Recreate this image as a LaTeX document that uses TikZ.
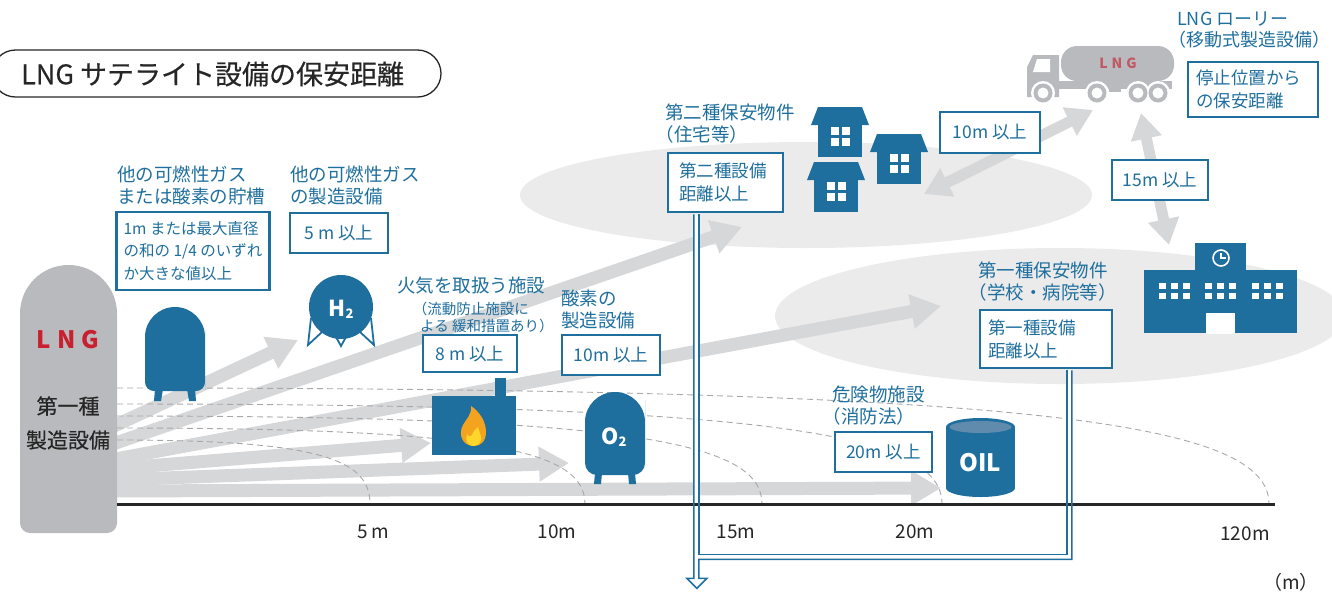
\documentclass[tikz,border=0pt]{standalone}
\usepackage{fontspec}
\setmainfont{Noto Sans CJK JP}
\newfontfamily\titlefont[FakeBold=0.4]{Noto Sans CJK JP}
\usetikzlibrary{calc,arrows.meta,positioning}
\definecolor{safeBlue}{RGB}{31,111,158}
\definecolor{safeInk}{RGB}{38,38,38}
\definecolor{fanGray}{RGB}{214,215,217}
\definecolor{zoneGray}{RGB}{235,235,236}
\definecolor{lngGray}{RGB}{185,186,190}
\definecolor{lngRed}{RGB}{200,32,46}
\definecolor{truckRed}{RGB}{194,88,100}
\definecolor{reachGray}{RGB}{168,168,168}
\definecolor{drumTop}{RGB}{96,139,172}
\definecolor{flameOrange}{RGB}{244,163,30}
\definecolor{flameYellow}{RGB}{252,214,42}
\newcommand{\openparen}{\hspace*{-0.5em}（}
\newcommand{\closeparen}{）\hspace*{-0.5em}}

\begin{document}
\begin{tikzpicture}[x=1pt,y=-1pt,
  infotext/.style={text=safeBlue, font=\fontsize{18.5}{21.5}\selectfont, align=left, inner sep=0pt, anchor=north west},
  rulebox/.style={draw=safeBlue, line width=2.3pt, fill=white, text=safeBlue, font=\fontsize{17.5}{23}\selectfont, inner xsep=9pt, inner ysep=0pt},
  fanarrow/.style={fanGray, line width=13pt, -{Triangle[length=30pt,width=33pt]}},
  spanarrow/.style={fanGray, line width=11pt, {Triangle[length=26pt,width=30pt]}-{Triangle[length=26pt,width=30pt]}},
  reach/.style={reachGray, line width=0.9pt, dash pattern=on 6pt off 4pt},
  pipe/.style={safeBlue, line width=1.5pt},
  axislabel/.style={text=safeInk, font=\fontsize{19}{20}\selectfont, inner sep=0pt}]
\useasboundingbox (0,0) rectangle (1332,595);

% zones of the protected buildings
\fill[zoneGray] (806,195) ellipse[x radius=286, y radius=53];
\fill[zoneGray] (1060,316) ellipse[x radius=285, y radius=68];

% distances fanning out of the LNG tank
\foreach \n/\sy/\tx/\ty in {h2/428/298/340, second/445/742/227, first/460/941/306,
                            fire/469/431/443, oxy/480/569/463, oil/491/941/488} {
  \coordinate (from-\n) at (110,\sy);
  \coordinate (to-\n) at (\tx,\ty);
  \draw[fanarrow] (from-\n) -- (to-\n);
}

\coordinate (houseEnd) at (924,194);
\coordinate (truckLeft) at (1093,110);
\coordinate (truckBottom) at (1141,113);
\coordinate (schoolTop) at (1169,245);
\draw[spanarrow] (houseEnd) -- (truckLeft);
\draw[spanarrow] (truckBottom) -- (schoolTop);

\foreach \top/\xe in {440/370, 428/585, 416/762, 404/942, 388/1269}
  \draw[reach] (117,\top) .. controls ({117+0.8*(\xe-117)},\top) and (\xe,{\top+0.3*(504-\top)}) .. (\xe,504);

% LNG tank
\fill[lngGray] (20,400) [rounded corners=48.5pt] -- (20,265) -- (117,265) -- (117,400)
  [rounded corners=10pt] -- (117,533) -- (20,533) -- cycle;
\node[text=lngRed, font=\fontsize{24}{24}\selectfont\bfseries] (lngMark) at (68,340) {L\hspace{6pt}N\hspace{6pt}G};
\node[text=safeInk, font=\titlefont\fontsize{21}{21}\selectfont] (lngKind) at (68,406) {第一種};
\node[text=safeInk, font=\titlefont\fontsize{21}{21}\selectfont] (lngUse) at (68,440) {製造設備};

% storage tank
\fill[safeBlue] (145,360) [rounded corners=30pt] -- (145,307) -- (205,307) -- (205,360)
  [rounded corners=9pt] -- (205,391) -- (145,391) -- cycle;
\fill[safeBlue] (155,389) -- (163,389) -- (161,401) -- (154,401) -- cycle;
\fill[safeBlue] (187,389) -- (195,389) -- (196,401) -- (189,401) -- cycle;

% hydrogen sphere
\draw[safeBlue, line width=1.8pt] (311,318) -- (308,345) -- (322,332);
\draw[safeBlue, line width=1.8pt] (371,318) -- (374,345) -- (360,332);
\draw[safeBlue, line width=1.8pt] (336,337) -- (341,346) -- (346,337);
\fill[safeBlue] (341,307) circle[radius=32];
\node[text=white, font=\fontsize{22}{22}\selectfont\bfseries] (h2Mark) at (341,309)
  {H\raisebox{-2pt}{\fontsize{13}{13}\selectfont 2}};

% fire facility
\fill[safeBlue] (432,396) rectangle (516,455);
\fill[safeBlue] (495,378) rectangle (506,397);
\fill[flameOrange] (474,446) .. controls (462,446) and (458,434) .. (463,425)
  .. controls (466,419) and (472,415) .. (471,406) .. controls (480,412) and (486,422) .. (486,432)
  .. controls (486,441) and (481,446) .. (474,446) -- cycle;
\fill[flameYellow] (474,446) .. controls (467,446) and (465,440) .. (467,434)
  .. controls (469,437) and (471,437) .. (472,435) .. controls (473,431) and (476,429) .. (478,427)
  .. controls (479,432) and (482,436) .. (481,440) .. controls (480,444) and (477,446) .. (474,446) -- cycle;

% oxygen tank
\fill[safeBlue] (585,430) [rounded corners=30pt] -- (585,392) -- (645,392) -- (645,430)
  [rounded corners=12pt] -- (645,475) -- (585,475) -- cycle;
\fill[safeBlue] (595,473) -- (602,473) -- (601,484) -- (594,484) -- cycle;
\fill[safeBlue] (628,473) -- (635,473) -- (636,484) -- (629,484) -- cycle;
\node[text=white, font=\fontsize{22}{22}\selectfont\bfseries] (o2Mark) at (614,437)
  {O\raisebox{-2pt}{\fontsize{13}{13}\selectfont 2}};

% oil drum
\fill[safeBlue] (980.5,488) ellipse[x radius=34.5, y radius=9];
\fill[safeBlue] (946,427) rectangle (1015,488);
\fill[safeBlue] (980.5,427) ellipse[x radius=34.5, y radius=9];
\fill[drumTop] (980.5,427) ellipse[x radius=31, y radius=6];
\node[text=white, font=\fontsize{24}{24}\selectfont\bfseries] (oilMark) at (980.5,463) {OIL};

% houses
\foreach \bx/\by in {818/125, 877/152, 814/180} {
  \fill[safeBlue] (\bx-7,\by) -- (\bx,\by-18) -- (\bx+44,\by-18) -- (\bx+51,\by) -- cycle;
  \fill[safeBlue] (\bx,\by) rectangle (\bx+44,\by+32);
  \foreach \wx/\wy in {0/0, 10.5/0, 0/10.5, 10.5/10.5}
    \fill[white] (\bx+13+\wx,\by+2+\wy) rectangle ++(8,8);
}

% school
\fill[safeBlue] (1144,270) rectangle (1297,333);
\fill[safeBlue] (1195,243) rectangle (1246,271);
\fill[white] (1206,313) rectangle (1235,334);
\draw[white, line width=1.6pt] (1221,258) circle[radius=8];
\draw[white, line width=1.4pt] (1221,253) -- (1221,258) -- (1226,258);
\foreach \gx in {1159,1205,1252}
  \foreach \c in {0,1,2}
    \foreach \r in {0,1}
      \fill[white] (\gx+\c*12,283+\r*10) rectangle ++(7,6);

% LNG lorry
\fill[lngGray, rounded corners=16pt] (1061,46) rectangle (1174,81);
\fill[lngGray] (1027,97) -- (1027,67) -- (1033,55) -- (1059,55) -- (1059,97) -- cycle;
\fill[white] (1037,59) -- (1050,59) -- (1050,72) -- (1033,72) -- cycle;
\fill[lngGray] (1040,81) rectangle (1172,89);
\foreach \wx in {1043,1097,1138,1158}
  \fill[white] (\wx,93) circle[radius=12];
\fill[lngGray] (1109,86) rectangle (1121,92);
\foreach \wx in {1043,1097,1138,1158} {
  \fill[lngGray] (\wx,93) circle[radius=9.5];
  \fill[white] (\wx,93) circle[radius=5.5];
}
\node[text=truckRed, font=\fontsize{14}{14}\selectfont\bfseries] (lorryMark) at (1118,63) {L\hspace{4pt}N\hspace{4pt}G};

% distance boxes
\node[rulebox, font=\fontsize{15.5}{22.5}\selectfont, inner xsep=7pt, minimum width=150pt, minimum height=78pt, align=left] (tankBox) at (193,251)
  {1m または最大直径\\の和の 1/4 のいずれ\\か大きな値以上};
\node[rulebox, minimum width=98pt, minimum height=40pt, align=center] (procBox) at (339,233) {5 m 以上};
\node[rulebox, minimum width=94pt, minimum height=37pt, align=center] (fireBox) at (470,353.5) {8 m 以上};
\node[rulebox, minimum width=98pt, minimum height=40pt, align=center] (oxyBox) at (611,355) {10m 以上};
\node[rulebox, inner xsep=11pt, text width=93pt, minimum height=59pt, align=left] (secondBox) at (725.5,182.5) {第二種設備\\距離以上};
\node[rulebox, minimum width=100pt, minimum height=41pt, align=center] (houseBox) at (990,132.5) {10m 以上};
\node[rulebox, inner xsep=8pt, text width=114pt, minimum height=55pt, align=left] (stopBox) at (1253,89.5) {停止位置から\\の保安距離};
\node[rulebox, minimum width=96pt, minimum height=40pt, align=center] (schoolBox) at (1160,180) {15m 以上};
\node[rulebox, inner xsep=8pt, text width=116pt, minimum height=58pt, align=left] (firstBox) at (1046,339) {第一種設備\\距離以上};
\node[rulebox, minimum width=97pt, minimum height=40pt, align=center] (oilBox) at (883.5,452) {20m 以上};

% hollow arrow out of both building boxes
\coordinate (pipeTop) at ($(secondBox.south west)+(27,1.2)$);
\coordinate (pipeJoin) at ($(firstBox.south west)+(88,1.2)$);
\fill[white] (pipeTop) -- ++(0,364) -- ++(-7,0) -- ++(10,10) -- ++(10,-10) -- ++(-8,0) -- ++(0,-19)
  -| ($(pipeJoin)+(5,0)$) -- (pipeJoin) |- ($(pipeTop)+(5,340)$) -- ($(pipeTop)+(5,0)$) -- cycle;

% ground
\draw[safeInk, line width=3pt] (117,504) -- (1275,504);

\draw[pipe] (pipeTop) -- ++(0,364) -- ++(-7,0) -- ++(10,10) -- ++(10,-10) -- ++(-8,0) -- ++(0,-19)
  -| ($(pipeJoin)+(5,0)$);
\draw[pipe] ($(pipeTop)+(5,0)$) -- ++(0,340) -| (pipeJoin);

% captions
\node[infotext] (tankLab) at (117,166) {他の可燃性ガス\\または酸素の貯槽};
\node[infotext] (procLab) at (290,166) {他の可燃性ガス\\の製造設備};
\node[infotext] (fireLab) at (397,277) {火気を取扱う施設};
\node[infotext, font=\fontsize{14.5}{16.5}\selectfont] (fireNote) at (420,302) {\openparen 流動防止施設に\\よる 緩和措置あり\closeparen};
\node[infotext] (oxyLab) at (561,290) {酸素の\\製造設備};
\node[infotext] (secondLab) at (665,104) {第二種保安物件\\\openparen 住宅等\closeparen};
\node[infotext, font=\fontsize{18}{21}\selectfont] (lorryLab) at (1177,12) {LNG ローリー\\\openparen 移動式製造設備\closeparen};
\node[infotext] (firstLab) at (978,262) {第一種保安物件\\\openparen 学校・病院等\closeparen};
\node[infotext] (oilLab) at (832,386) {危険物施設\\\openparen 消防法\closeparen};

% scale
\node[axislabel] (tick5) at (373,532) {5\,m};
\node[axislabel] (tick10) at (557,532) {10m};
\node[axislabel] (tick15) at (736,532) {15m};
\node[axislabel] (tick20) at (915,532) {20m};
\node[axislabel] (tick120) at (1245,534) {120m};
\node[axislabel] (unitM) at (1291,582) {（m）};

% title
\draw[safeInk, line width=1.3pt, rounded corners=23.5pt] (-8,50) rectangle (441,97);
\node[anchor=west, text=safeInk, font=\titlefont\fontsize{27}{27}\selectfont, inner sep=0pt] (mainTitle) at (21,74) {LNG サテライト設備の保安距離};
\end{tikzpicture}
\end{document}
